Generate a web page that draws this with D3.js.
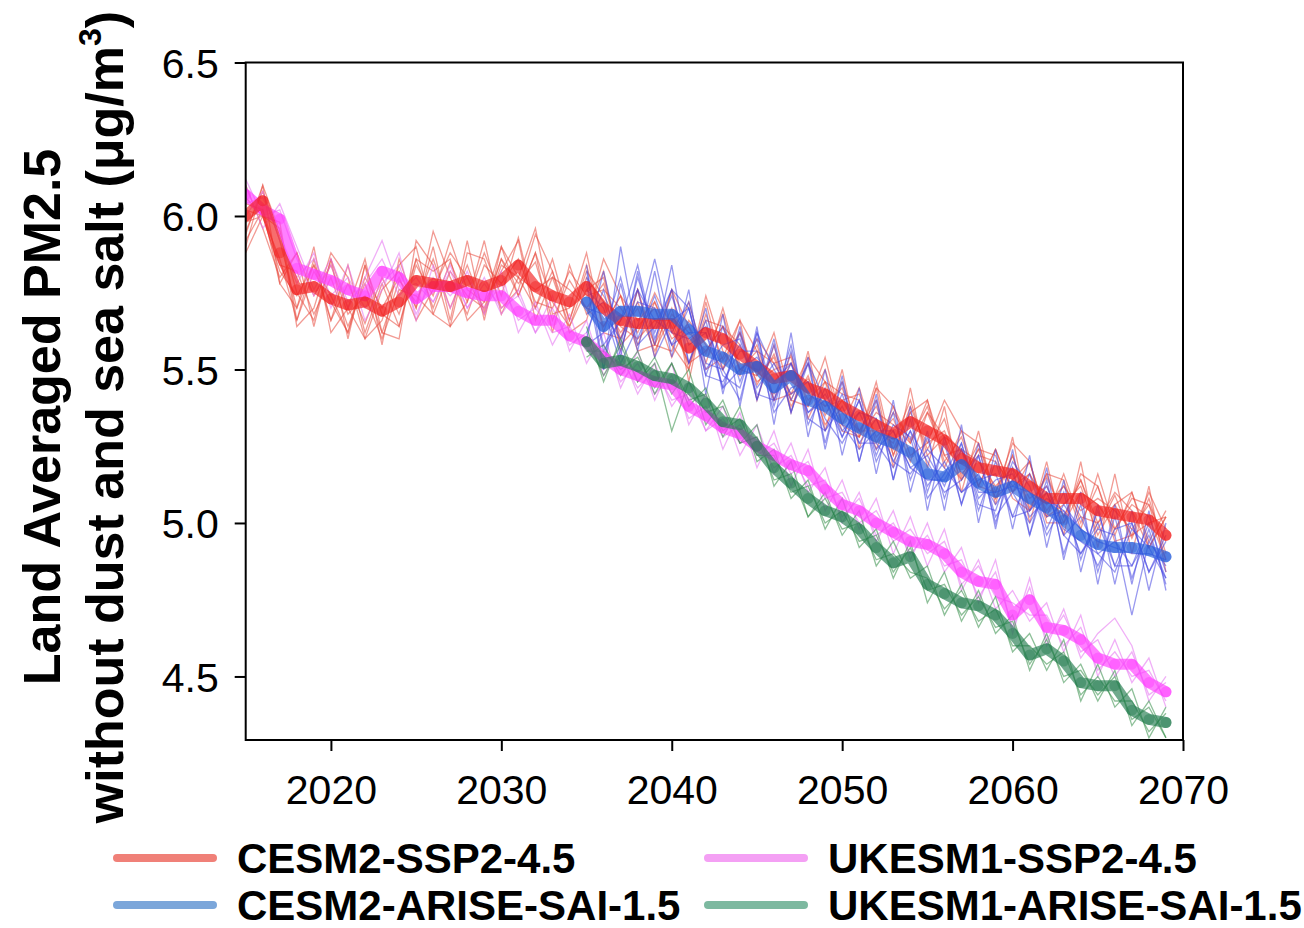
<!DOCTYPE html>
<html><head><meta charset="utf-8">
<script src="https://cdn.jsdelivr.net/npm/d3@7"></script>
<style>body{margin:0;background:#fff}svg{display:block}text{font-family:"Liberation Sans",Arial,sans-serif}</style>
</head><body><svg id="c" width="1304" height="928"></svg>
<script>
const yearsSSP = d3.range(2015, 2070);
const yearsARISE = d3.range(2035, 2070);
const xTicks = [2020, 2030, 2040, 2050, 2060, 2070];
const yTicks = [4.5, 5.0, 5.5, 6.0, 6.5];
const seriesNames = ["CESM2-SSP2-4.5", "UKESM1-SSP2-4.5", "CESM2-ARISE-SAI-1.5", "UKESM1-ARISE-SAI-1.5"];

// Ensemble means
const cesmSSPMean = [6.00,6.05,5.88,5.76,5.77,5.73,5.71,5.72,5.69,5.72,5.79,
 5.78,5.77,5.79,5.77,5.79,5.84,5.77,5.74,5.72,5.77,5.70,
 5.66,5.65,5.65,5.65,5.57,5.62,5.60,5.55,5.51,5.47,5.48,
 5.44,5.42,5.38,5.35,5.32,5.29,5.33,5.30,5.27,5.21,5.18,
 5.17,5.16,5.12,5.08,5.08,5.08,5.04,5.03,5.02,5.01,4.96];
const ukSSPMean = [6.07,6.02,5.99,5.83,5.81,5.79,5.76,5.74,5.82,5.80,5.73,
 5.77,5.77,5.75,5.74,5.74,5.69,5.66,5.66,5.61,5.59,5.54,
 5.50,5.48,5.46,5.45,5.38,5.35,5.31,5.29,5.25,5.22,5.19,
 5.17,5.11,5.06,5.04,5.00,4.97,4.94,4.93,4.90,4.84,4.81,
 4.80,4.70,4.75,4.66,4.65,4.62,4.56,4.54,4.54,4.48,4.45];
const cesmARISEMean = [5.72,5.64,5.69,5.69,5.68,5.68,5.63,
 5.56,5.54,5.50,5.51,5.44,5.48,5.40,
 5.38,5.34,5.31,5.28,5.26,5.23,5.16,
 5.15,5.19,5.13,5.10,5.12,5.08,5.05,
 5.01,4.96,4.93,4.92,4.92,4.91,4.89];
const ukARISEMean = [5.59,5.52,5.53,5.51,5.48,5.47,5.44,
 5.39,5.33,5.32,5.25,5.18,5.13,5.08,
 5.04,5.02,4.98,4.92,4.87,4.89,4.80,
 4.77,4.74,4.73,4.70,4.64,4.57,4.59,
 4.55,4.48,4.47,4.47,4.39,4.36,4.35];

// Ensemble members
const cesmSSPMembers = [
 [5.95,6.08,5.92,5.70,5.84,5.66,5.78,5.65,5.80,5.68,5.86, 5.70,5.85,5.72,5.88,5.74,5.93,5.70,5.82,5.66,5.84,5.64, 5.74,5.58,5.72,5.60,5.64,5.55,5.68,5.49,5.58,5.40,5.55, 5.38,5.50,5.32,5.44,5.26,5.36,5.27,5.38,5.20,5.28,5.12, 5.24,5.10,5.20,5.02,5.16,5.00,5.12,4.96,5.10,4.94,5.04],
 [6.04,6.02,5.84,5.82,5.68,5.80,5.64,5.78,5.62,5.79,5.72, 5.86,5.70,5.84,5.69,5.86,5.78,5.85,5.66,5.79,5.70,5.78, 5.60,5.72,5.58,5.70,5.50,5.68,5.53,5.62,5.45,5.55,5.40, 5.52,5.35,5.46,5.30,5.40,5.22,5.38,5.24,5.34,5.15,5.26, 5.10,5.22,5.05,5.15,5.02,5.14,4.98,5.09,4.95,5.08,4.90],
 [5.90,6.10,5.95,5.75,5.66,5.86,5.70,5.60,5.76,5.82,5.70, 5.95,5.80,5.68,5.84,5.78,5.86,5.72,5.70,5.82,5.74,5.76, 5.70,5.62,5.75,5.64,5.52,5.66,5.64,5.50,5.56,5.52,5.42, 5.47,5.38,5.44,5.28,5.36,5.32,5.26,5.40,5.22,5.24,5.20, 5.12,5.18,5.08,5.12,5.00,5.10,5.06,4.98,5.06,5.02,4.88],
 [6.02,6.00,5.86,5.66,5.82,5.72,5.62,5.84,5.68,5.64,5.84, 5.74,5.92,5.76,5.72,5.90,5.80,5.76,5.80,5.64,5.80,5.72, 5.62,5.70,5.56,5.68,5.62,5.56,5.64,5.58,5.46,5.50,5.52, 5.40,5.46,5.36,5.30,5.38,5.24,5.36,5.26,5.30,5.16,5.22, 5.20,5.12,5.16,5.06,5.12,5.04,5.08,5.04,4.98,5.06,4.94],
 [6.10,5.96,5.80,5.88,5.64,5.86,5.60,5.84,5.58,5.86,5.70, 5.90,5.66,5.92,5.66,5.90,5.74,5.88,5.62,5.84,5.68,5.82, 5.56,5.76,5.54,5.76,5.46,5.72,5.50,5.66,5.40,5.58,5.36, 5.56,5.30,5.50,5.24,5.44,5.18,5.44,5.18,5.38,5.10,5.30, 5.06,5.28,5.00,5.20,4.96,5.20,4.92,5.16,4.90,5.12,4.84],
 [5.88,6.00,5.96,5.64,5.70,5.88,5.80,5.60,5.66,5.84,5.90, 5.68,5.64,5.88,5.86,5.70,5.76,5.94,5.82,5.62,5.66,5.86, 5.74,5.56,5.58,5.76,5.64,5.50,5.54,5.66,5.56,5.40,5.42, 5.54,5.46,5.30,5.28,5.44,5.38,5.22,5.26,5.40,5.30,5.12, 5.10,5.26,5.20,5.00,5.00,5.16,5.12,4.94,4.96,5.10,4.98],
 [5.94,6.10,5.78,5.70,5.90,5.62,5.70,5.86,5.62,5.60,5.92, 5.84,5.64,5.72,5.92,5.68,5.80,5.96,5.68,5.70,5.88,5.62, 5.60,5.76,5.58,5.56,5.72,5.52,5.70,5.50,5.48,5.62,5.40, 5.38,5.54,5.32,5.28,5.46,5.22,5.36,5.40,5.18,5.30,5.26, 5.08,5.22,5.04,5.16,5.14,4.98,5.16,4.98,5.08,5.06,4.88],
 [5.92,6.02,5.78,5.88,5.74,5.84,5.68,5.74,5.60,5.76,5.74, 5.68,5.82,5.74,5.70,5.86,5.74,5.88,5.72,5.64,5.76,5.80, 5.58,5.64,5.70,5.54,5.66,5.58,5.50,5.62,5.48,5.54,5.38, 5.48,5.32,5.40,5.42,5.28,5.34,5.20,5.36,5.28,5.14,5.24, 5.08,5.14,5.20,5.02,5.06,5.12,4.96,5.06,5.10,4.92,5.02],
 [6.06,6.00,5.98,5.66,5.86,5.66,5.84,5.62,5.78,5.64,5.86, 5.82,5.86,5.66,5.72,5.82,5.92,5.66,5.80,5.76,5.70,5.64, 5.74,5.66,5.72,5.58,5.50,5.74,5.56,5.48,5.60,5.52,5.54, 5.34,5.46,5.42,5.40,5.24,5.38,5.26,5.36,5.22,5.14,5.24, 5.22,5.08,5.04,5.16,5.02,5.14,5.00,5.10,5.04,4.92,5.02],
 [5.98,6.00,5.82,5.74,5.84,5.74,5.62,5.80,5.70,5.80,5.66, 5.76,5.88,5.80,5.68,5.84,5.80,5.70,5.86,5.66,5.82,5.74, 5.64,5.60,5.66,5.66,5.52,5.56,5.64,5.52,5.50,5.42,5.52, 5.42,5.38,5.40,5.30,5.30,5.26,5.40,5.22,5.28,5.24,5.12, 5.24,5.10,5.16,5.04,5.12,5.02,5.00,5.06,4.96,5.00,5.02]
];
const ukSSPMembers = [
 [6.12,6.00,6.02,5.86,5.74,5.84,5.70,5.80,5.92,5.76,5.78, 5.72,5.82,5.70,5.78,5.70,5.74,5.62,5.70,5.58,5.62,5.50, 5.54,5.44,5.50,5.40,5.42,5.30,5.34,5.26,5.28,5.18,5.22, 5.12,5.14,5.02,5.08,4.96,5.00,4.90,4.96,4.86,4.88,4.76, 4.84,4.66,4.79,4.62,4.70,4.58,4.62,4.50,4.58,4.44,4.48],
 [6.04,6.06,5.94,5.80,5.86,5.74,5.80,5.70,5.78,5.84,5.68, 5.80,5.74,5.80,5.70,5.78,5.66,5.70,5.62,5.64,5.56,5.58, 5.46,5.52,5.42,5.48,5.34,5.38,5.28,5.32,5.22,5.26,5.16, 5.20,5.08,5.10,5.00,5.04,4.94,4.98,4.90,4.94,4.80,4.86, 4.76,4.74,4.70,4.70,4.60,4.66,4.52,4.58,4.50,4.52,4.42],
 [6.00,6.08,5.92,5.78,5.88,5.70,5.84,5.66,5.76,5.88,5.66, 5.84,5.70,5.82,5.68,5.82,5.62,5.72,5.58,5.68,5.52,5.62, 5.44,5.56,5.40,5.52,5.32,5.42,5.24,5.36,5.18,5.30,5.12, 5.24,5.04,5.14,4.98,5.08,4.90,5.02,4.86,4.98,4.78,4.88, 4.72,4.78,4.68,4.74,4.58,4.70,4.50,4.62,4.48,4.56,4.40],
 [6.10,5.96,6.04,5.90,5.76,5.86,5.72,5.78,5.86,5.74,5.80, 5.72,5.84,5.70,5.80,5.68,5.76,5.62,5.74,5.56,5.66,5.48, 5.56,5.42,5.52,5.38,5.46,5.30,5.38,5.22,5.32,5.16,5.26, 5.10,5.18,5.00,5.10,4.94,5.04,4.88,5.00,4.84,4.92,4.74, 4.88,4.64,4.82,4.60,4.72,4.56,4.64,4.69,4.60,4.42,4.50]
];
const cesmARISEMembers = [
 [5.60,5.82,5.58,5.80,5.62,5.76,5.52, 5.66,5.44,5.62,5.40,5.58,5.36,5.52, 5.26,5.46,5.20,5.40,5.14,5.34,5.10, 5.26,5.06,5.22,5.00,5.18,4.96,5.14, 4.90,5.06,4.84,5.02,4.82,4.98,4.80],
 [5.78,5.50,5.90,5.60,5.74,5.58,5.70, 5.48,5.64,5.46,5.60,5.38,5.56,5.32, 5.44,5.28,5.40,5.22,5.36,5.14,5.28, 5.08,5.24,5.04,5.20,5.02,5.16,4.98, 5.10,4.88,5.04,4.86,5.00,4.84,4.96],
 [5.68,5.72,5.56,5.76,5.66,5.62,5.72, 5.52,5.50,5.58,5.44,5.52,5.42,5.46, 5.30,5.38,5.26,5.34,5.20,5.30,5.12, 5.20,5.10,5.16,5.06,5.14,5.04,5.10, 4.96,5.02,4.90,4.94,4.86,5.00,4.84],
 [5.82,5.56,5.66,5.84,5.60,5.74,5.58, 5.62,5.48,5.44,5.62,5.40,5.52,5.36, 5.40,5.30,5.36,5.24,5.30,5.18,5.22, 5.12,5.26,5.08,5.14,5.16,5.02,5.08, 5.04,4.90,4.98,4.96,4.70,4.94,4.86],
 [5.62,5.76,5.54,5.82,5.58,5.84,5.52, 5.70,5.42,5.64,5.40,5.60,5.36,5.54, 5.24,5.48,5.20,5.42,5.14,5.38,5.04, 5.28,5.06,5.26,4.98,5.24,4.96,5.18, 4.88,5.10,4.80,5.06,4.80,5.04,4.78],
 [5.84,5.50,5.78,5.56,5.82,5.54,5.76, 5.42,5.68,5.38,5.64,5.32,5.62,5.28, 5.50,5.22,5.44,5.16,5.40,5.10,5.30, 5.04,5.32,5.00,5.24,4.98,5.22,4.92, 5.14,4.84,5.06,4.80,5.04,4.78,5.00],
 [5.76,5.70,5.52,5.64,5.86,5.62,5.60, 5.64,5.50,5.40,5.62,5.50,5.40,5.52, 5.40,5.28,5.40,5.20,5.32,5.28,5.08, 5.16,5.26,5.06,5.04,5.20,5.12,4.96, 5.06,4.98,4.86,4.98,5.00,4.84,4.94],
 [5.58,5.62,5.80,5.58,5.64,5.76,5.70, 5.50,5.58,5.60,5.42,5.40,5.58,5.34, 5.30,5.42,5.26,5.26,5.18,5.30,5.20, 5.10,5.14,5.22,5.02,5.10,5.00,5.10, 4.96,4.90,5.00,4.86,4.86,4.96,4.82],
 [5.80,5.58,5.66,5.76,5.54,5.66,5.70, 5.48,5.46,5.56,5.56,5.36,5.44,5.46, 5.34,5.26,5.36,5.34,5.20,5.16,5.24, 5.18,5.10,5.14,5.16,5.02,5.04,5.12, 4.98,4.94,4.90,4.84,4.98,4.92,4.82],
 [5.70,5.68,5.60,5.72,5.70,5.58,5.62, 5.62,5.44,5.50,5.54,5.46,5.52,5.36, 5.42,5.32,5.24,5.30,5.30,5.18,5.14, 5.14,5.24,5.10,5.10,5.12,5.10,5.02, 5.04,4.98,4.94,4.92,4.90,4.90,4.88]
];
const ukARISEMembers = [
 [5.60,5.48,5.58,5.46,5.52,5.30,5.46, 5.36,5.38,5.26,5.28,5.14,5.16,5.02, 5.08,4.98,5.00,4.88,4.90,4.84,4.82, 4.72,4.78,4.68,4.72,4.60,4.60,4.54, 4.58,4.44,4.50,4.42,4.42,4.32,4.38],
 [5.56,5.56,5.50,5.54,5.44,5.52,5.40, 5.42,5.30,5.34,5.22,5.22,5.10,5.12, 5.00,5.04,4.94,4.96,4.84,4.92,4.78, 4.80,4.70,4.76,4.66,4.68,4.54,4.62, 4.50,4.52,4.44,4.50,4.36,4.40,4.30],
 [5.64,5.46,5.60,5.46,5.54,5.42,5.50, 5.32,5.40,5.26,5.32,5.12,5.20,5.02, 5.10,4.96,5.04,4.86,4.94,4.82,4.86, 4.70,4.80,4.66,4.76,4.58,4.64,4.52, 4.62,4.42,4.54,4.40,4.46,4.30,4.40],
 [5.54,5.58,5.48,5.56,5.42,5.52,5.38, 5.44,5.28,5.38,5.20,5.24,5.08,5.14, 4.98,5.08,4.92,4.98,4.82,4.94,4.74, 4.84,4.68,4.78,4.64,4.70,4.52,4.64, 4.48,4.54,4.42,4.52,4.34,4.42,4.30]
];

const svg = d3.select("#c");
const L = 245.7, R = 1183, T = 62.5, B = 740;
const x = d3.scaleLinear().domain([2015, 2070]).range([L, R]);
const y = d3.scaleLinear().domain([4.293, 6.5]).range([B, T]);

svg.append("defs").append("clipPath").attr("id", "clip")
  .append("rect").attr("x", L).attr("y", T).attr("width", R - L).attr("height", B - T);

const plot = svg.append("g").attr("clip-path", "url(#clip)");
const line = (yrs) => d3.line().x((d, i) => x(yrs[i])).y(d => y(d));

const groups = [
  {members: cesmSSPMembers, mean: cesmSSPMean, yrs: yearsSSP, thin: "rgb(232,72,60)", thick: "rgb(242,30,30)", legend: "#f08078"},
  {members: ukSSPMembers, mean: ukSSPMean, yrs: yearsSSP, thin: "rgb(228,110,240)", thick: "rgb(255,60,255)", legend: "#f4a0f4"},
  {members: cesmARISEMembers, mean: cesmARISEMean, yrs: yearsARISE, thin: "rgb(70,70,225)", thick: "rgb(40,95,220)", legend: "#7ba6da"},
  {members: ukARISEMembers, mean: ukARISEMean, yrs: yearsARISE, thin: "rgb(50,140,70)", thick: "rgb(35,125,80)", legend: "#7db9a0"}
];

groups.forEach(g => {
  plot.append("g").selectAll("path").data(g.members).join("path")
    .attr("d", d => line(g.yrs)(d))
    .attr("fill", "none").attr("stroke", g.thin).attr("stroke-width", 1.3)
    .attr("stroke-opacity", 0.55).attr("stroke-linejoin", "miter");
});

[1, 0, 2, 3].forEach(k => {
  const g = groups[k];
  const gg = plot.append("g");
  gg.append("path").attr("d", line(g.yrs)(g.mean))
    .attr("fill", "none").attr("stroke", g.thick).attr("stroke-width", 11)
    .attr("stroke-opacity", 0.65).attr("stroke-linejoin", "round").attr("stroke-linecap", "round");
  gg.selectAll("circle").data(g.mean).join("circle")
    .attr("cx", (d, i) => x(g.yrs[i])).attr("cy", d => y(d)).attr("r", 5.5)
    .attr("fill", g.thick).attr("fill-opacity", 0.45);
});

// frame
svg.append("rect").attr("x", L).attr("y", T).attr("width", R - L).attr("height", B - T)
  .attr("fill", "none").attr("stroke", "#000").attr("stroke-width", 2);

// axes
const yAxis = svg.append("g").attr("transform", `translate(${L},0)`)
  .call(d3.axisLeft(y).tickValues(yTicks).tickFormat(d3.format(".1f")).tickSize(11).tickPadding(16));
const xAxis = svg.append("g").attr("transform", `translate(0,${B})`)
  .call(d3.axisBottom(x).tickValues(xTicks).tickFormat(d3.format("d")).tickSize(11).tickPadding(24));
[yAxis, xAxis].forEach(a => {
  a.select(".domain").remove();
  a.selectAll(".tick line").attr("stroke", "#000").attr("stroke-width", 2);
  a.selectAll(".tick text").attr("font-size", 41).attr("fill", "#000")
    .attr("font-family", "'Liberation Sans',Arial,sans-serif");
});
yAxis.selectAll(".tick text").attr("dy", "0.36em");
xAxis.selectAll(".tick text").attr("dy", "0.71em");

// y title
const yt = svg.append("g").attr("transform", "translate(0,417) rotate(-90)");
yt.append("text").attr("x", 0).attr("y", 60).attr("text-anchor", "middle")
  .attr("font-size", 52).attr("font-weight", "bold").text("Land Averaged PM2.5");
const t2 = yt.append("text").attr("x", 0).attr("y", 123).attr("text-anchor", "middle")
  .attr("font-size", 52).attr("font-weight", "bold");
t2.append("tspan").text("without dust and sea salt (\u03BCg/m");
t2.append("tspan").attr("font-size", 32).attr("dy", -22).text("3");
t2.append("tspan").attr("dy", 22).text(")");

// legend
const legendPos = [[117, 858, 0], [708, 858, 1], [117, 905, 2], [708, 905, 3]];
legendPos.forEach(([lx, ly, k]) => {
  svg.append("line").attr("x1", lx).attr("x2", lx + 96).attr("y1", ly).attr("y2", ly)
    .attr("stroke", groups[k].legend).attr("stroke-width", 8).attr("stroke-linecap", "round");
  svg.append("text").attr("x", lx + 120).attr("y", ly + 15).attr("font-size", 42)
    .attr("font-weight", "bold").attr("fill", "#000").text(seriesNames[k]);
});
</script></body></html>
